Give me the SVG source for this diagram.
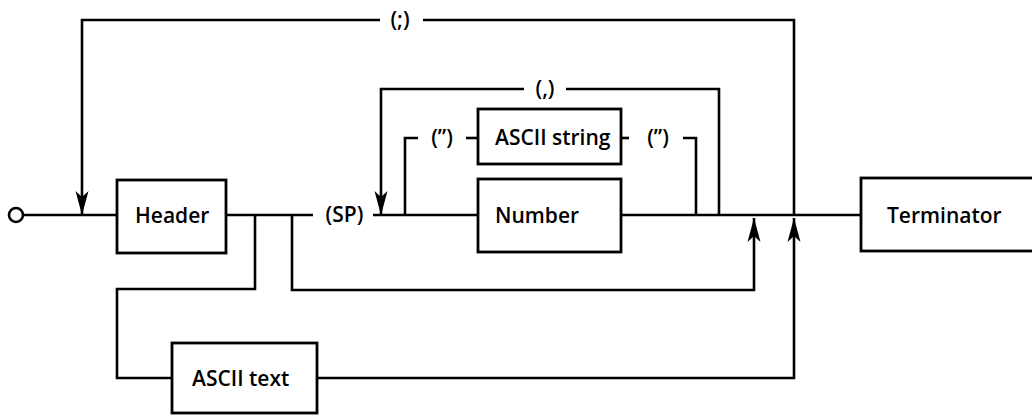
<svg xmlns="http://www.w3.org/2000/svg" width="1032" height="417" viewBox="0 0 1032 417">
<style>
.ln{fill:none;stroke:#000;stroke-width:2.6}
.bx{fill:#fff;stroke:#000;stroke-width:2.8}
.t{font-family:"Open Sans","Noto Sans","Liberation Sans",sans-serif;font-size:21px;font-weight:600;fill:#000}
.lb{font-family:"Open Sans","Noto Sans","Liberation Sans",sans-serif;font-size:21px;font-weight:600;fill:#000;text-anchor:middle}
</style>
<defs>
<marker id="ah" viewBox="-24 -7.5 25 15" refX="0" refY="0" markerWidth="25" markerHeight="15" markerUnits="userSpaceOnUse" orient="auto">
<path d="M0,0 L-24,-6.5 L-18,0 L-24,6.5 Z" fill="#000"/>
</marker>
</defs>
<rect width="1032" height="417" fill="#fff"/>
<g id="connectors">
<path class="ln" d="M23,215 H117"/>
<path class="ln" d="M226,215 H313"/>
<path class="ln" d="M373,215 H478"/>
<path class="ln" d="M621,215 H861"/>
<path class="ln" d="M794,215 V20 H423"/>
<path class="ln" d="M380,20 H82 V215" marker-end="url(#ah)"/>
<path class="ln" d="M719,215 V89 H566"/>
<path class="ln" d="M524,89 H381 V215" marker-end="url(#ah)"/>
<path class="ln" d="M696,215 V138 H683"/>
<path class="ln" d="M629,138 H621"/>
<path class="ln" d="M478,138 H466"/>
<path class="ln" d="M418,138 H405 V215"/>
<path class="ln" d="M255,215 V289 H117 V378 H172"/>
<path class="ln" d="M317,378 H794 V218" marker-end="url(#ah)"/>
<path class="ln" d="M292,215 V290 H754 V218" marker-end="url(#ah)"/>
<text class="lb" x="400" y="27">(;)</text>
<text class="lb" x="545" y="96">(,)</text>
<text class="lb" x="442" y="145">(”)</text>
<text class="lb" x="658" y="145">(”)</text>
<text class="lb" x="344.5" y="222">(SP)</text>
</g>
<g id="start">
<circle cx="16" cy="215" r="7" fill="#fff" stroke="#000" stroke-width="2.6"/>
</g>
<g id="header">
<rect class="bx" x="117" y="180" width="109" height="73"/>
<text class="t" x="135" y="223">Header</text>
</g>
<g id="ascii-string">
<rect class="bx" x="478" y="109" width="143" height="55"/>
<text class="t" x="495" y="145">ASCII string</text>
</g>
<g id="number">
<rect class="bx" x="478" y="179" width="143" height="73"/>
<text class="t" x="495" y="223">Number</text>
</g>
<g id="terminator">
<rect class="bx" x="861" y="178" width="200" height="73"/>
<text class="t" x="887" y="223">Terminator</text>
</g>
<g id="ascii-text">
<rect class="bx" x="172" y="343" width="145" height="70"/>
<text class="t" x="192" y="386">ASCII text</text>
</g>
</svg>
